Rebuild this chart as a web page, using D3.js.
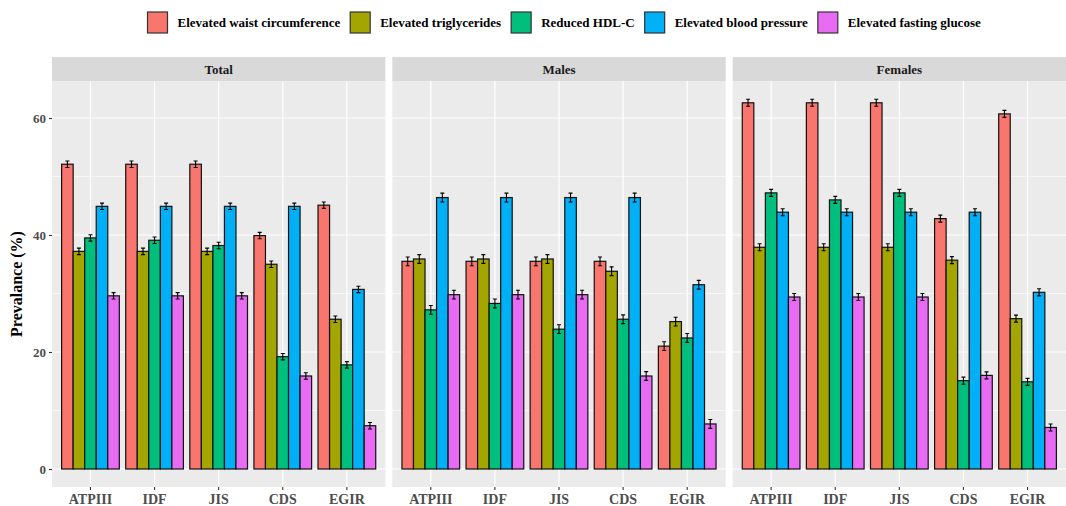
<!DOCTYPE html>
<html>
<head>
<meta charset="utf-8">
<script src="https://cdn.jsdelivr.net/npm/d3@7"></script>
<style>
  body { margin: 0; background: #fff; }
  text { font-family: "Liberation Serif", "Times New Roman", serif; font-weight: bold; }
</style>
</head>
<body>
<script>
// data
const panels = ["Total", "Males", "Females"];
const criteria = ["ATPIII", "IDF", "JIS", "CDS", "EGIR"];
const components = ["Elevated waist circumference", "Elevated triglycerides", "Reduced HDL-C",
  "Elevated blood pressure", "Elevated fasting glucose"];
const colors = ["#F8766D", "#A3A500", "#00BF7D", "#00B0F6", "#E76BF3"];

// values[component][criterion] per panel
const totalValues = [
  [52.1, 52.1, 52.1, 39.9, 45.1],
  [37.2, 37.2, 37.2, 35.0, 25.6],
  [39.5, 39.1, 38.2, 19.2, 17.8],
  [44.9, 44.9, 44.9, 44.9, 30.7],
  [29.6, 29.6, 29.6, 15.9, 7.4]
];
const maleValues = [
  [35.5, 35.5, 35.5, 35.5, 21.0],
  [35.9, 35.9, 35.9, 33.8, 25.2],
  [27.2, 28.3, 23.9, 25.6, 22.4],
  [46.4, 46.4, 46.4, 46.4, 31.5],
  [29.8, 29.8, 29.8, 15.9, 7.7]
];
const femaleValues = [
  [62.6, 62.6, 62.6, 42.8, 60.7],
  [37.9, 37.9, 37.9, 35.7, 25.7],
  [47.2, 46.0, 47.2, 15.1, 14.9],
  [43.9, 43.9, 43.9, 43.9, 30.2],
  [29.4, 29.4, 29.4, 16.0, 7.1]
];
const errHalf = [0.55, 0.75, 0.6];
const yTicks = [0, 20, 40, 60];
const yMinor = [10, 30, 50];

const panelValues = [totalValues, maleValues, femaleValues];

const W = 1066, H = 506;
const svg = d3.select("body").append("svg").attr("width", W).attr("height", H);

// layout
const plotLeft = 52, plotRight = 1066, gap = 7;
const panelW = (plotRight - plotLeft - 2 * gap) / 3;
const stripTop = 57, stripH = 24, plotTop = stripTop + stripH, plotBottom = 487;

const y = d3.scaleLinear().domain([0, 60]).range([469, 118]);

// y axis (left only)
svg.append("text")
  .attr("transform", `translate(22,${(plotTop + plotBottom) / 2}) rotate(-90)`)
  .attr("text-anchor", "middle")
  .style("font-size", "16px").attr("fill", "#000")
  .text("Prevalance (%)");

const yAxis = svg.append("g").attr("transform", `translate(${plotLeft},0)`)
  .call(d3.axisLeft(y).tickValues(yTicks).tickSize(3).tickPadding(3));
yAxis.select(".domain").remove();
yAxis.selectAll("line").attr("stroke", "#333").attr("stroke-width", 1.1);
yAxis.selectAll("text").style("font-size", "13px").attr("fill", "#4D4D4D")
  .style("font-family", "Liberation Serif, serif").style("font-weight", "bold");

panels.forEach((name, pi) => {
  const x0 = plotLeft + pi * (panelW + gap);
  const g = svg.append("g").attr("transform", `translate(${x0},0)`);

  // discrete scale with ggplot-like 0.6 expansion
  const xc = d3.scaleLinear().domain([0.4, criteria.length + 0.6]).range([0, panelW]);
  const unit = xc(2) - xc(1);
  const barW = unit * 0.9 / components.length;

  g.append("rect").attr("x", 0).attr("y", plotTop).attr("width", panelW)
    .attr("height", plotBottom - plotTop).attr("fill", "#EBEBEB");

  yMinor.forEach(v => g.append("line").attr("x1", 0).attr("x2", panelW)
    .attr("y1", y(v)).attr("y2", y(v)).attr("stroke", "#fff").attr("stroke-width", 0.6));
  yTicks.forEach(v => g.append("line").attr("x1", 0).attr("x2", panelW)
    .attr("y1", y(v)).attr("y2", y(v)).attr("stroke", "#fff").attr("stroke-width", 1.2));
  criteria.forEach((c, ci) => g.append("line").attr("x1", xc(ci + 1)).attr("x2", xc(ci + 1))
    .attr("y1", plotTop).attr("y2", plotBottom).attr("stroke", "#fff").attr("stroke-width", 1.2));

  // strip
  g.append("rect").attr("x", 0).attr("y", stripTop).attr("width", panelW).attr("height", stripH)
    .attr("fill", "#D9D9D9");
  g.append("text").attr("x", panelW / 2).attr("y", stripTop + stripH / 2 + 4.5)
    .attr("text-anchor", "middle").style("font-size", "13px").attr("fill", "#1A1A1A").text(name);

  const vals = panelValues[pi];
  components.forEach((comp, k) => {
    criteria.forEach((c, ci) => {
      const v = vals[k][ci];
      const bx = xc(ci + 1) - unit * 0.45 + k * barW;
      g.append("rect").attr("x", bx).attr("y", y(v)).attr("width", barW)
        .attr("height", y(0) - y(v)).attr("fill", colors[k])
        .attr("stroke", "#111").attr("stroke-width", 1.2);
    });
  });
  // error bars
  components.forEach((comp, k) => {
    criteria.forEach((c, ci) => {
      const v = vals[k][ci];
      const cx = xc(ci + 1) - unit * 0.45 + (k + 0.5) * barW;
      const e = errHalf[pi];
      const cw = 2;
      g.append("path")
        .attr("d", `M${cx - cw},${y(v + e)}H${cx + cw}M${cx},${y(v + e)}V${y(v - e)}M${cx - cw},${y(v - e)}H${cx + cw}`)
        .attr("stroke", "#000").attr("stroke-width", 1.1).attr("fill", "none");
    });
  });

  // x axis
  criteria.forEach((c, ci) => {
    g.append("line").attr("x1", xc(ci + 1)).attr("x2", xc(ci + 1))
      .attr("y1", plotBottom).attr("y2", plotBottom + 3).attr("stroke", "#333").attr("stroke-width", 1.1);
    g.append("text").attr("x", xc(ci + 1)).attr("y", plotBottom + 17)
      .attr("text-anchor", "middle").style("font-size", "14px").attr("fill", "#4D4D4D").text(c);
  });
});

// legend
const legend = svg.append("g");
const keySize = 20, keyGap = 10, itemGap = 10;
let lx = 0;
components.forEach((comp, k) => {
  const it = legend.append("g");
  it.append("rect").attr("x", 0).attr("y", 12).attr("width", keySize).attr("height", keySize + 1)
    .attr("fill", colors[k]).attr("stroke", "#333").attr("stroke-width", 1.2);
  const t = it.append("text").attr("x", keySize + keyGap).attr("y", 27)
    .style("font-size", "13px").attr("fill", "#000").text(comp);
  const tw = t.node().getComputedTextLength();
  it.attr("transform", `translate(${lx},0)`);
  lx += keySize + keyGap + tw + itemGap;
});
legend.attr("transform", "translate(147.5,0)");
</script>
</body>
</html>
